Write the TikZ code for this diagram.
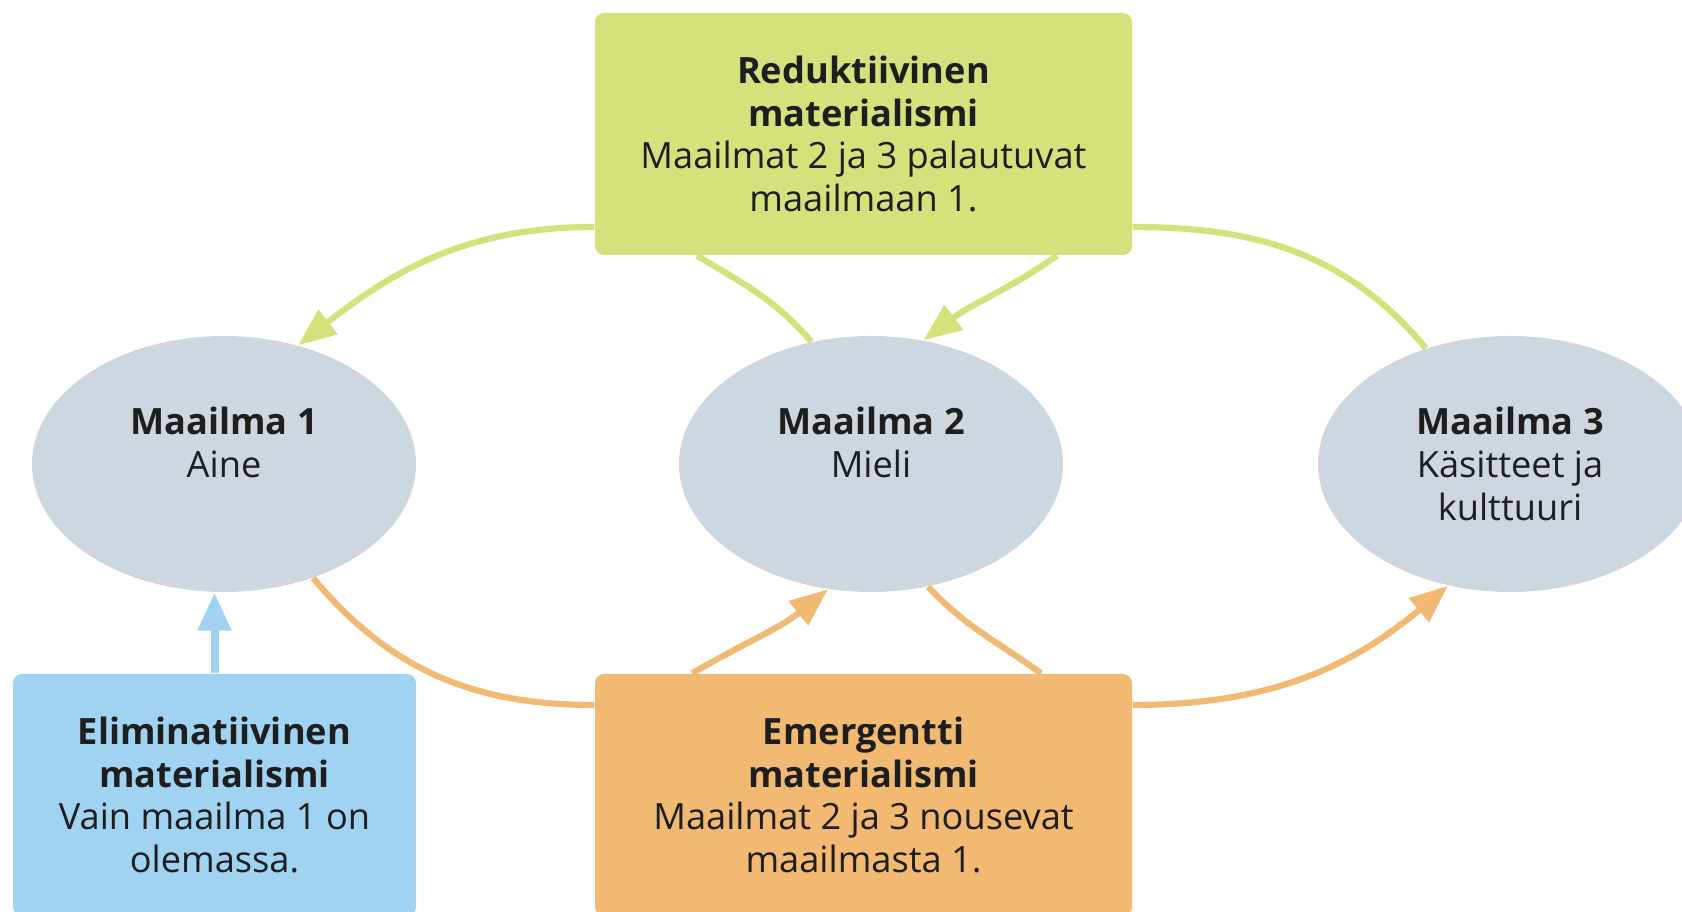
\documentclass[tikz,border=0pt]{standalone}
\usepackage{fontspec}
\setmainfont{Open Sans}
\usetikzlibrary{arrows.meta, shapes.geometric}

\definecolor{boxgreen}{RGB}{213,225,123}
\definecolor{boxorange}{RGB}{242,185,115}
\definecolor{boxblue}{RGB}{160,211,242}
\definecolor{worldgrey}{RGB}{206,215,224}
\definecolor{textdark}{RGB}{30,30,30}

\begin{document}
\begin{tikzpicture}[every node/.style={font=\fontsize{10.3}{12.2}\selectfont, text=textdark, align=center, inner sep=0pt}, world/.style={ellipse, fill=worldgrey, minimum width=3.84cm, minimum height=2.56cm}, theory/.style={rounded corners=0.09cm, minimum width=5.37cm, minimum height=2.42cm}, link/.style={line width=0.062cm}, pointer/.style={-{Triangle[length=0.38cm, width=0.3cm]}}]

  \useasboundingbox (0, 0) rectangle (16.82, 9.12);

  \node[theory, fill=boxgreen] (green) at (8.635, 7.78) {\textbf{Reduktiivinen}\\\textbf{materialismi}\\Maailmat 2 ja 3 palautuvat\\maailmaan 1.};

  \node[world] (w1) at (2.24, 4.48) {\textbf{Maailma 1}\\Aine\\\mbox{}};
  \node[world] (w2) at (8.71, 4.48) {\textbf{Maailma 2}\\Mieli\\\mbox{}};
  \node[world] (w3) at (15.10, 4.48) {\textbf{Maailma 3}\\Käsitteet ja\\kulttuuri};

  \node[theory, fill=boxblue, minimum width=4.03cm] (blue) at (2.145, 1.17) {\textbf{Eliminatiivinen}\\\textbf{materialismi}\\Vain maailma 1 on\\olemassa.};
  \node[theory, fill=boxorange] (orange) at (8.635, 1.17) {\textbf{Emergentti}\\\textbf{materialismi}\\Maailmat 2 ja 3 nousevat\\maailmasta 1.};

  \draw[link, boxgreen, pointer] ([yshift=-9.3mm]green.west) to[out=180, in=38] (w1.58);
  \draw[link, boxgreen] ([xshift=-16.65mm]green.south) to[out=-31, in=131] (w2.116);
  \draw[link, boxgreen, pointer] ([xshift=19.35mm]green.south) to[out=215, in=37] (w2.67);
  \draw[link, boxgreen] ([yshift=-9.3mm]green.east) to[out=0, in=130] (w3.126);

  \draw[link, boxorange] (w1.-52) to[out=-50, in=180] ([yshift=9mm]orange.west);
  \draw[link, boxorange, pointer] ([xshift=-17.15mm]orange.north) to[out=30, in=-141] (w2.-109);
  \draw[link, boxorange] (w2.-65) to[out=-47, in=144] ([xshift=17.75mm]orange.north);
  \draw[link, boxorange, pointer] ([yshift=9mm]orange.east) to[out=0, in=-140] (w3.-117);

  \draw[line width=0.08cm, boxblue, -{Triangle[length=0.38cm, width=0.32cm]}] (blue.north) -- (blue.north |- w1.south);

\end{tikzpicture}
\end{document}
